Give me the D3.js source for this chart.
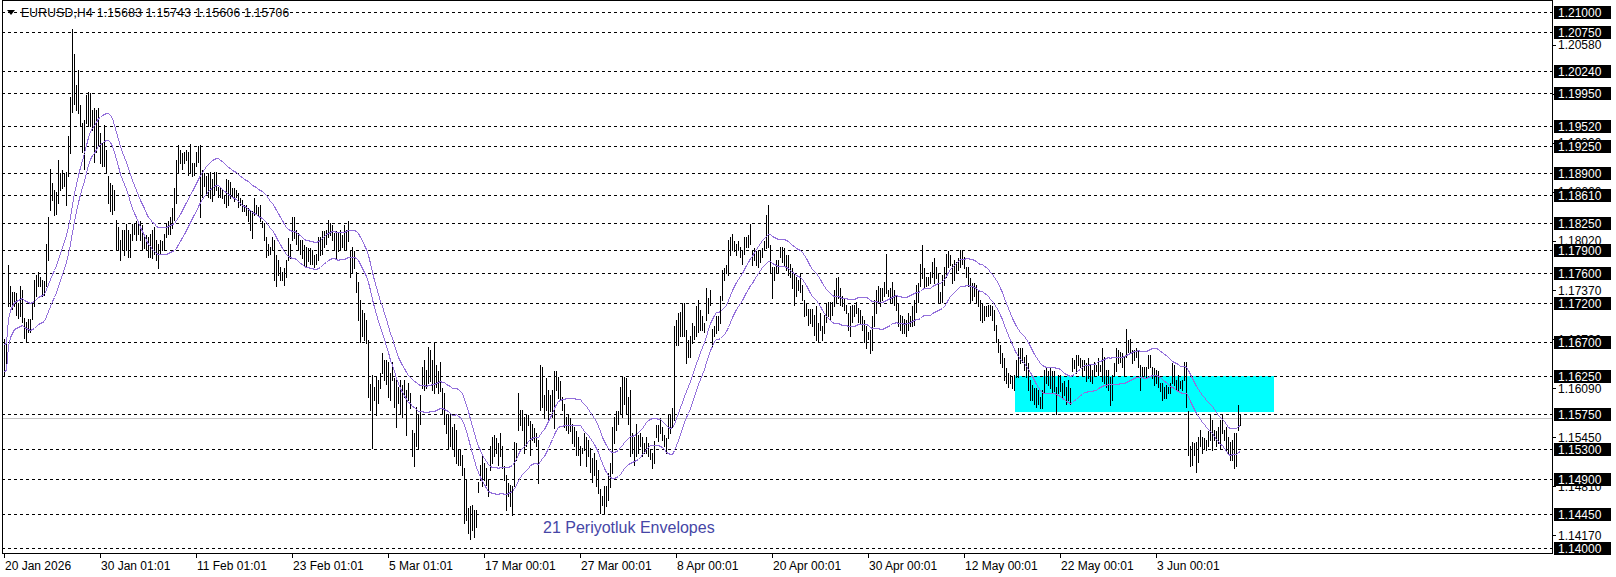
<!DOCTYPE html>
<html><head><meta charset="utf-8">
<script src="https://cdn.jsdelivr.net/npm/d3@7"></script>
<style>
body{margin:0;background:#fff;overflow:hidden}
svg{display:block}
text{font-family:"Liberation Sans",Arial,sans-serif}
</style>
</head><body>
<svg id="chart" width="1616" height="577"></svg>
<script>
// ---------- DATA ----------
const highs = [
1.1673,1.1670,1.1770,1.1742,1.1735,1.1735,1.1733,1.1720,1.1742,1.1738,
1.1701,1.1696,1.1699,1.1699,1.1720,1.1751,1.1757,1.1761,1.1755,1.1751,
1.1749,1.1798,1.1833,1.1896,1.1877,1.1868,1.1866,1.1907,1.1890,1.1894,
1.1890,1.1892,1.1938,1.1990,1.2078,1.2046,1.2005,1.2025,1.1979,1.1955,
1.1960,1.1992,1.1996,1.1995,1.1972,1.1975,1.1972,1.1975,1.1942,1.1929,
1.1953,1.1920,1.1886,1.1877,1.1875,1.1868,1.1829,1.1820,1.1803,1.1816,
1.1816,1.1824,1.1816,1.1811,1.1824,1.1824,1.1827,1.1824,1.1827,1.1822,
1.1811,1.1809,1.1807,1.1811,1.1816,1.1820,1.1803,1.1798,1.1803,1.1801,
1.1811,1.1824,1.1827,1.1833,1.1844,1.1870,1.1907,1.1927,1.1920,1.1916,
1.1918,1.1920,1.1918,1.1928,1.1903,1.1903,1.1918,1.1925,1.1927,1.1894,
1.1890,1.1886,1.1890,
1.1892,1.1883,1.1892,1.1892,1.1872,1.1872,1.1868,
1.1862,1.1883,1.1881,1.1879,1.1870,1.1870,1.1868,1.1864,1.1857,1.1855,
1.1849,1.1849,1.1844,1.1842,1.1840,1.1857,1.1849,1.1846,1.1849,1.1827,
1.1825,1.1807,1.1798,1.1794,1.1807,1.1803,1.1783,1.1777,1.1768,1.1761,
1.1766,1.1777,1.1805,1.1798,1.1833,1.1833,1.1816,1.1812,1.1803,1.1803,
1.1796,1.1794,1.1792,1.1792,1.1790,1.1783,1.1785,1.1807,1.1807,1.1814,
1.1814,1.1816,1.1829,1.1825,1.1822,1.1812,1.1814,1.1812,1.1816,1.1809,
1.1822,1.1816,1.1827,1.1790,1.1794,1.1788,1.1761,1.1748,1.1724,1.1711,
1.1707,1.1698,1.1672,1.1615,1.1626,1.1611,1.1624,1.1620,1.1629,1.1655,
1.1646,1.1646,1.1644,1.1629,1.1644,1.1622,1.1620,1.1611,1.1620,1.1613,1.1620,
1.1607,1.1616,1.1603,1.1555,1.1550,1.1585,1.1576,1.1600,1.1637,
1.1646,1.1633,1.1663,1.1659,1.1646,1.1668,1.1640,1.1631,1.1644,1.1609,
1.1603,1.1576,1.1576,1.1576,1.1559,1.1563,1.1555,1.1529,1.1529,1.1522,
1.1505,1.1491,1.1452,1.1455,1.1457,1.1450,1.1450,1.1487,1.1509,1.1520,
1.1511,1.1505,1.1489,1.1533,1.1546,1.1548,1.1544,1.1537,1.1550,1.1533,
1.1507,1.1496,1.1485,1.1483,1.1481,1.1539,1.1537,1.1603,1.1581,1.1581,
1.1572,1.1574,1.1574,1.1566,1.1563,1.1557,1.1550,1.1542,1.1640,1.1637,
1.1600,1.1622,1.1607,1.1600,1.1607,1.1631,1.1631,1.1624,1.1618,1.1598,
1.1589,1.1572,1.1574,1.1570,1.1563,1.1559,1.1553,1.1546,1.1533,1.1531,
1.1550,1.1546,1.1542,1.1531,1.1518,1.1524,1.1515,1.1502,1.1478,1.1468,
1.1481,1.1481,1.1498,
1.1511,1.1559,1.1572,1.1579,1.1579,1.1611,1.1624,
1.1624,1.1622,1.1598,1.1607,1.1550,1.1546,1.1563,1.1548,1.1550,1.1546,
1.1537,1.1546,1.1537,1.1529,1.1524,1.1540,1.1561,1.1561,1.1570,1.1559,
1.1548,1.1544,1.1576,1.1574,1.1583,1.1690,1.1698,1.1707,1.1709,1.1720,
1.1720,1.1685,1.1672,1.1677,1.1694,1.1690,1.1716,1.1724,1.1711,1.1703,
1.1694,1.1740,1.1727,1.1737,1.1687,1.1690,1.1703,1.1703,1.1729,1.1764,
1.1766,1.1770,1.1803,1.1807,1.1811,1.1801,1.1798,1.1801,1.1794,1.1790,
1.1807,1.1807,1.1809,1.1824,1.1790,1.1792,1.1788,1.1788,1.1788,1.1792,
1.1801,1.1835,1.1848,1.1796,1.1768,1.1768,1.1777,1.1777,1.1794,1.1794,
1.1792,1.1783,1.1783,1.1772,1.1766,1.1759,1.1755,1.1750,1.1759,1.1744,
1.1724,1.1720,1.1713,1.1713,1.1713,1.1705,
1.1716,1.1694,1.1707,1.1690,
1.1705,1.1720,1.1722,1.1722,1.1722,1.1737,1.1753,1.1755,1.1740,1.1729,
1.1727,1.1718,1.1707,1.1716,1.1718,1.1718,1.1722,1.1714,1.1711,1.1703,
1.1698,1.1690,1.1683,1.1685,1.1703,1.1724,1.1737,1.1742,1.1740,1.1740,
1.1748,1.1785,1.1737,1.1740,1.1748,1.1737,1.1729,1.1720,1.1705,1.1703,
1.1700,1.1698,1.1707,1.1703,1.1716,1.1724,1.1744,1.1746,1.1772,1.1796,
1.1766,1.1755,1.1755,1.1761,1.1774,1.1779,1.1768,1.1759,1.1735,1.1757,
1.1768,1.1785,1.1788,1.1783,1.1772,1.1777,1.1774,1.1779,1.1789,1.1788,
1.1781,1.1768,1.1768,1.1753,1.1746,1.1746,1.1744,1.1737,1.1724,1.1720,
1.1716,1.1716,1.1718,1.1718,1.1716,1.1711,1.1692,1.1674,1.1666,1.1655,
1.1648,1.1635,1.1629,1.1627,1.1624,1.1627,1.1646,1.1661,1.1661,1.1661,1.1650,
1.1653,1.1642,1.1620,1.1613,1.1609,1.1609,1.1607,1.1598,1.1607,
1.1633,1.1635,1.1631,1.1635,1.1631,1.1631,1.1611,1.1626,1.1626,1.1616,
1.1618,1.1611,1.1620,1.1609,1.1648,1.1646,1.1653,1.1653,1.1648,1.1646,
1.1646,1.1642,1.1648,1.1640,1.1633,1.1644,1.1640,1.1648,1.1640,1.1661,
1.1650,1.1633,1.1633,1.1624,1.1626,1.1642,1.1661,1.1659,1.1657,1.1655,
1.1650,1.1686,1.1672,1.1674,1.1659,1.1659,1.1661,1.1659,1.1640,1.1637,
1.1637,1.1637,1.1653,1.1653,1.1637,1.1635,1.1633,1.1631,1.1616,1.1616,
1.1611,1.1613,1.1611,1.1616,1.1642,1.1640,1.1620,1.1626,1.1618,1.1620,
1.1644,1.1644,1.1579,1.1533,1.1539,1.1537,1.1539,1.1546,1.1555,1.1546,
1.1544,1.1542,1.1553,1.1576,1.1568,1.1555,1.1553,1.1559,1.1568,1.1574,
1.1555,1.1559,1.1546,1.1539,1.1542,1.1550,1.1550,1.1587,1.15743
];
const lows = [
1.1625,1.1635,1.1716,1.1716,1.1712,1.1716,1.1705,1.1701,1.1703,1.1696,
1.1675,1.1670,1.1683,1.1683,1.1699,1.1716,1.1729,1.1742,1.1742,1.1729,
1.1731,1.1742,1.1777,1.1842,1.1855,1.1835,1.1837,1.1851,1.1868,1.1870,
1.1873,1.1848,1.1886,1.1916,1.1970,1.1981,1.1972,1.1968,1.1951,1.1918,
1.1896,1.1955,1.1953,1.1951,1.1946,1.1905,1.1918,1.1925,1.1903,1.1899,
1.1899,1.1890,1.1851,1.1840,1.1837,1.1842,1.1790,1.1790,1.1777,1.1790,
1.1783,1.1790,1.1781,1.1780,1.1803,1.1811,1.1803,1.1811,1.1803,1.1790,
1.1792,1.1790,1.1781,1.1781,1.1779,1.1785,1.1777,1.1766,1.1785,1.1790,
1.1790,1.1807,1.1811,1.1811,1.1818,1.1829,1.1851,1.1890,1.1903,1.1896,
1.1903,1.1907,1.1888,1.1892,1.1886,1.1888,1.1899,1.1905,1.1833,1.1859,
1.1873,1.1864,1.1859,
1.1857,1.1853,1.1862,1.1868,1.1859,1.1859,1.1857,
1.1851,1.1846,1.1849,1.1857,1.1859,1.1853,1.1859,1.1846,1.1849,1.1840,
1.1840,1.1835,1.1827,1.1816,1.1805,1.1835,1.1838,1.1835,1.1827,1.1820,
1.1803,1.1781,1.1783,1.1785,1.1790,1.1751,1.1742,1.1757,1.1751,1.1751,
1.1744,1.1755,1.1777,1.1779,1.1803,1.1805,1.1798,1.1790,1.1785,1.1779,
1.1770,1.1768,1.1775,1.1772,1.1772,1.1768,1.1772,1.1777,1.1783,1.1785,
1.1794,1.1798,1.1807,1.1809,1.1803,1.1790,1.1779,1.1788,1.1790,1.1794,
1.1790,1.1790,1.1801,1.1755,1.1761,1.1766,1.1735,1.1698,1.1670,1.1677,
1.1672,1.1668,1.1598,1.1581,1.1531,1.1594,1.1574,1.1590,1.1609,1.1629,
1.1620,1.1615,1.1598,1.1594,1.1620,1.1585,1.1559,1.1590,1.1577,1.1572,1.1598,
1.1548,1.1594,1.1583,1.1520,1.1507,1.1533,1.1531,1.1563,1.1609,
1.1607,1.1609,1.1616,1.1618,1.1607,1.1603,1.1611,1.1603,1.1605,1.1576,
1.1563,1.1550,1.1531,1.1533,1.1531,1.1520,1.1511,1.1509,1.1509,1.1496,
1.1433,1.1437,1.1420,1.1412,1.1424,1.1415,1.1428,1.1474,1.1489,1.1481,
1.1489,1.1483,1.1468,1.1502,1.1511,1.1520,1.1524,1.1509,1.1520,1.1505,
1.1489,1.1450,1.1468,1.1455,1.1444,1.1481,1.1515,1.1555,1.1561,1.1555,
1.1524,1.1533,1.1561,1.1522,1.1542,1.1539,1.1533,1.1485,1.1581,1.1585,
1.1570,1.1581,1.1568,1.1579,1.1572,1.1557,1.1607,1.1596,1.1594,1.1581,
1.1559,1.1555,1.1550,1.1553,1.1537,1.1533,1.1522,1.1522,1.1509,1.1524,
1.1529,1.1507,1.1520,1.1500,1.1487,1.1496,1.1481,1.1472,1.1446,1.1457,
1.1446,1.1455,1.1463,
1.1480,1.1498,1.1537,1.1555,1.1563,1.1576,1.1572,
1.1589,1.1576,1.1563,1.1520,1.1524,1.1509,1.1520,1.1524,1.1533,1.1520,
1.1524,1.1524,1.1520,1.1516,1.1505,1.1511,1.1546,1.1540,1.1550,1.1542,
1.1533,1.1524,1.1544,1.1550,1.1559,1.1568,1.1666,1.1666,1.1677,1.1677,
1.1677,1.1642,1.1650,1.1650,1.1668,1.1674,1.1677,1.1683,1.1685,1.1685,
1.1683,1.1698,1.1707,1.1718,1.1663,1.1677,1.1681,1.1685,1.1694,1.1724,
1.1750,1.1759,1.1757,1.1783,1.1790,1.1788,1.1783,1.1790,1.1781,1.1772,
1.1785,1.1794,1.1794,1.1798,1.1770,1.1777,1.1770,1.1768,1.1774,1.1781,
1.1790,1.1792,1.1794,1.1761,1.1727,1.1750,1.1759,1.1759,1.1781,1.1774,
1.1770,1.1764,1.1757,1.1755,1.1740,1.1718,1.1729,1.1737,1.1735,1.1724,
1.1703,1.1705,1.1692,1.1694,1.1690,1.1679,
1.1672,1.1670,1.1685,1.1672,
1.1681,1.1696,1.1703,1.1698,1.1705,1.1716,1.1722,1.1727,1.1718,1.1716,
1.1711,1.1707,1.1685,1.1677,1.1696,1.1703,1.1707,1.1696,1.1694,1.1685,
1.1670,1.1661,1.1674,1.1655,1.1659,1.1690,1.1707,1.1720,1.1716,1.1724,
1.1729,1.1733,1.1729,1.1720,1.1720,1.1718,1.1711,1.1690,1.1685,1.1681,
1.1681,1.1677,1.1685,1.1690,1.1690,1.1692,1.1709,1.1722,1.1742,1.1753,
1.1740,1.1742,1.1744,1.1746,1.1755,1.1746,1.1753,1.1722,1.1720,1.1722,
1.1744,1.1755,1.1768,1.1770,1.1746,1.1751,1.1761,1.1764,1.1768,1.1772,
1.1766,1.1755,1.1742,1.1722,1.1724,1.1729,1.1722,1.1716,1.1698,1.1696,
1.1698,1.1703,1.1703,1.1705,1.1698,1.1685,1.1670,1.1657,1.1642,1.1637,
1.1620,1.1616,1.1611,1.1616,1.1609,1.1607,1.1624,1.1624,1.1642,1.1644,1.1633,
1.1624,1.1607,1.1594,1.1594,1.1589,1.1585,1.1589,1.1583,1.1583,
1.1603,1.1616,1.1613,1.1609,1.1603,1.1605,1.1576,1.1603,1.1605,1.1596,
1.1600,1.1589,1.1594,1.1589,1.1631,1.1635,1.1629,1.1640,1.1637,1.1626,
1.1633,1.1618,1.1622,1.1618,1.1616,1.1626,1.1631,1.1626,1.1631,1.1618,
1.1616,1.1611,1.1607,1.1587,1.1594,1.1626,1.1631,1.1642,1.1644,1.1637,
1.1626,1.1650,1.1657,1.1655,1.1642,1.1646,1.1650,1.1637,1.1607,1.1626,
1.1626,1.1624,1.1635,1.1637,1.1622,1.1613,1.1616,1.1611,1.1605,1.1594,
1.1596,1.1596,1.1603,1.1603,1.1616,1.1613,1.1607,1.1607,1.1609,1.1607,
1.1620,1.1585,1.1522,1.1507,1.1509,1.1522,1.1500,1.1513,1.1533,1.1524,
1.1531,1.1529,1.1533,1.1542,1.1529,1.1542,1.1533,1.1537,1.1531,1.1550,
1.1542,1.1527,1.1524,1.1515,1.1515,1.1505,1.1507,1.1555,1.15606
];

// horizontal level lines (drawn objects) with their boxed price labels
const levelPrices = [1.21000,1.20750,1.20240,1.19950,1.19520,1.19250,1.18900,1.18610,1.18250,
  1.17900,1.17600,1.17200,1.16700,1.16250,1.15750,1.15300,1.14900,1.14450,1.14000];
// native price-scale ticks
const scaleTicks = [1.20580,1.19940,1.19300,1.18660,1.18020,1.17370,1.16730,1.16090,1.15450,1.14810,1.14170];
// time-axis labels and the bar index each belongs to
const timeLabels = ["20 Jan 2026","30 Jan 01:01","11 Feb 01:01","23 Feb 01:01","5 Mar 01:01","17 Mar 00:01",
  "27 Mar 00:01","8 Apr 00:01","20 Apr 00:01","30 Apr 00:01","12 May 00:01","22 May 00:01","3 Jun 00:01"];
const timeLabelBars = [0,48,96,144,192,240,288,336,384,432,480,528,576];
const headerText = "EURUSD,H4  1.15683 1.15743 1.15606 1.15706";
const bidPrice = 1.15706;
const zoneBars = [505.5, 635];
const zonePrices = [1.16250, 1.15780];
const envPeriod = 21;
const envDeviation = 0.15; // percent
const envLabel = "21 Periyotluk Envelopes";

// ---------- LAYOUT ----------
const W = 1616, H = 577;
const plotL = 2, plotR = 1552, plotT = 0, plotB = 553;
const svg = d3.select("#chart");

const x = d3.scaleLinear().domain([0, highs.length - 1]).range([4, 4 + 2 * (highs.length - 1)]);
const y = d3.scaleLinear().domain([1.14, 1.21]).range([548.3, 12.4]);
const px = v => Math.round(x(v)) + 0.5;
const py = v => Math.round(y(v)) + 0.5;

svg.append("rect").attr("width", W).attr("height", H).attr("fill", "#fff");

const plot = svg.append("g");
plot.append("clipPath").attr("id", "clip").append("rect")
  .attr("x", plotL + 1).attr("y", plotT + 1).attr("width", plotR - plotL - 1).attr("height", plotB - plotT - 1);
const inner = plot.append("g").attr("clip-path", "url(#clip)");

// zone rectangle
inner.append("rect")
  .attr("x", x(zoneBars[0])).attr("width", x(zoneBars[1]) - x(zoneBars[0]))
  .attr("y", y(zonePrices[0])).attr("height", y(zonePrices[1]) - y(zonePrices[0]))
  .attr("fill", "#00FFFF");

// level lines
inner.selectAll("line.lvl").data(levelPrices).join("line").attr("class", "lvl")
  .attr("x1", plotL).attr("x2", plotR)
  .attr("y1", d => py(d)).attr("y2", d => py(d))
  .attr("stroke", "#000").attr("stroke-width", 1).attr("stroke-dasharray", "3,3")
  .attr("shape-rendering", "crispEdges");

// bid line
inner.append("line").attr("x1", plotL).attr("x2", plotR)
  .attr("y1", py(bidPrice)).attr("y2", py(bidPrice))
  .attr("stroke", "#C0C0C0").attr("shape-rendering", "crispEdges");

// bars
const idx = d3.range(highs.length);
inner.selectAll("line.bar").data(idx).join("line").attr("class", "bar")
  .attr("x1", i => px(i)).attr("x2", i => px(i))
  .attr("y1", i => Math.round(y(highs[i]))).attr("y2", i => Math.max(Math.round(y(lows[i])), Math.round(y(highs[i])) + 1) + 1)
  .attr("stroke", "#000").attr("stroke-width", 1).attr("shape-rendering", "crispEdges");

// envelopes (SMA of median price)
const mid = idx.map(i => (highs[i] + lows[i]) / 2);
const ma = idx.map(i => d3.mean(mid.slice(Math.max(0, i - envPeriod + 1), i + 1)));
const upper = ma.map(v => v * (1 + envDeviation / 100));
const lower = ma.map(v => v * (1 - envDeviation / 100));
const line = d3.line().x((d, i) => Math.round(x(i)) + 0.5).y(d => Math.round(y(d)) + 0.5);
[upper, lower].forEach(s => inner.append("path").attr("d", line(s))
  .attr("fill", "none").attr("stroke", "#9370DB").attr("stroke-width", 1)
  .attr("shape-rendering", "crispEdges"));

// envelope label
inner.append("text").attr("x", 543).attr("y", 533).text(envLabel)
  .attr("font-size", 16).attr("fill", "#4646A6");

// header
inner.append("path").attr("d", "M7,10 L15,10 L11,15 Z").attr("fill", "#000");
inner.append("text").attr("x", 21).attr("y", 17).text(headerText)
  .attr("font-size", 12).attr("letter-spacing", 0.3).attr("fill", "#000");

// frame
svg.append("rect").attr("x", plotL + 0.5).attr("y", plotT + 0.5)
  .attr("width", plotR - plotL).attr("height", plotB - plotT)
  .attr("fill", "none").attr("stroke", "#000").attr("shape-rendering", "crispEdges");

// price scale ticks + labels
const fmt = d3.format(".5f");
const pa = svg.append("g");
pa.selectAll("line").data(scaleTicks).join("line")
  .attr("x1", plotR).attr("x2", plotR + 4).attr("y1", d => py(d)).attr("y2", d => py(d))
  .attr("stroke", "#000").attr("shape-rendering", "crispEdges");
pa.selectAll("text").data(scaleTicks).join("text")
  .attr("x", plotR + 6).attr("y", d => y(d) + 4.5).text(d => fmt(d))
  .attr("font-size", 12).attr("fill", "#000");

// boxed level labels
const lb = svg.append("g");
lb.selectAll("rect").data(levelPrices).join("rect")
  .attr("x", plotR + 2).attr("width", 57).attr("y", d => Math.round(y(d)) - 6).attr("height", 13)
  .attr("fill", "#000");
lb.selectAll("text").data(levelPrices).join("text")
  .attr("x", plotR + 6).attr("y", d => Math.round(y(d)) + 4.5).text(d => fmt(d))
  .attr("font-size", 12).attr("fill", "#fff");

// time axis
const ta = svg.append("g");
ta.selectAll("line").data(timeLabelBars).join("line")
  .attr("x1", i => px(i)).attr("x2", i => px(i)).attr("y1", plotB).attr("y2", plotB + 5)
  .attr("stroke", "#000").attr("shape-rendering", "crispEdges");
ta.selectAll("text").data(timeLabels).join("text")
  .attr("x", (d, k) => Math.round(x(timeLabelBars[k])) + 1).attr("y", 570).text(d => d)
  .attr("font-size", 12).attr("fill", "#000");
</script>
</body></html>
